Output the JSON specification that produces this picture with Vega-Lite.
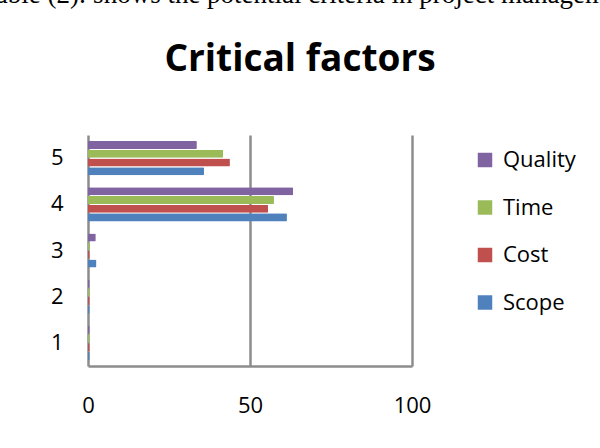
{
  "$schema": "https://vega.github.io/schema/vega-lite/v6.json",
  "autosize": "none",
  "width": 324,
  "height": 231,
  "padding": {"left": 88, "top": 135, "right": 188, "bottom": 82},
  "background": "white",
  "title": {
    "text": "\u2800Table (2): shows the potential criteria in project management",
    "subtitle": "Critical factors",
    "anchor": "middle",
    "frame": "group",
    "dx": 50,
    "offset": 56,
    "font": "Liberation Serif",
    "fontSize": 27,
    "fontWeight": "normal",
    "color": "black",
    "subtitleFont": "Open Sans",
    "subtitleFontSize": 37,
    "subtitleFontWeight": "bold",
    "subtitleColor": "black",
    "subtitlePadding": 33
  },
  "data": {
    "values": [
      {"category": "1", "series": "Scope", "value": 0.5},
      {"category": "1", "series": "Cost", "value": 0.5},
      {"category": "1", "series": "Time", "value": 0.5},
      {"category": "1", "series": "Quality", "value": 0.5},
      {"category": "2", "series": "Scope", "value": 0.5},
      {"category": "2", "series": "Cost", "value": 0.5},
      {"category": "2", "series": "Time", "value": 0.5},
      {"category": "2", "series": "Quality", "value": 0.5},
      {"category": "3", "series": "Scope", "value": 2.6},
      {"category": "3", "series": "Cost", "value": 0.5},
      {"category": "3", "series": "Time", "value": 0.5},
      {"category": "3", "series": "Quality", "value": 2.4},
      {"category": "4", "series": "Scope", "value": 61.4},
      {"category": "4", "series": "Cost", "value": 55.6},
      {"category": "4", "series": "Time", "value": 57.4},
      {"category": "4", "series": "Quality", "value": 63.3},
      {"category": "5", "series": "Scope", "value": 35.8},
      {"category": "5", "series": "Cost", "value": 43.8},
      {"category": "5", "series": "Time", "value": 41.7},
      {"category": "5", "series": "Quality", "value": 33.6}
    ]
  },
  "mark": {"type": "bar", "cornerRadiusEnd": 1},
  "encoding": {
    "y": {
      "field": "category",
      "type": "ordinal",
      "sort": "descending",
      "scale": {"paddingInner": 0.26, "paddingOuter": 0.13},
      "axis": {
        "title": null,
        "domain": false,
        "ticks": false,
        "labelFont": "Open Sans",
        "labelFontSize": 22,
        "labelColor": "black",
        "labelPadding": 25,
        "grid": false
      }
    },
    "yOffset": {
      "field": "series",
      "type": "nominal",
      "sort": ["Quality", "Time", "Cost", "Scope"],
      "scale": {"paddingInner": 0.08}
    },
    "x": {
      "field": "value",
      "type": "quantitative",
      "scale": {"domain": [0, 100], "nice": false},
      "axis": {
        "title": null,
        "values": [0, 50, 100],
        "ticks": false,
        "grid": true,
        "gridColor": "#8c8c8c",
        "gridWidth": 2.5,
        "gridOpacity": 1,
        "domainColor": "#8c8c8c",
        "domainWidth": 2.5,
        "labelFont": "Open Sans",
        "labelFontSize": 22,
        "labelColor": "black",
        "labelPadding": 29,
        "labelDx": -6,
        "labelFlush": false
      }
    },
    "color": {
      "field": "series",
      "type": "nominal",
      "scale": {
        "domain": ["Quality", "Time", "Cost", "Scope"],
        "range": ["#8064A2", "#9BBB59", "#C0504D", "#4F81BD"]
      },
      "legend": {
        "title": null,
        "orient": "none",
        "legendX": 386,
        "legendY": 14,
        "symbolType": "square",
        "symbolSize": 210,
        "symbolStrokeWidth": 0,
        "symbolOpacity": 1,
        "labelFont": "Open Sans",
        "labelFontSize": 22,
        "labelColor": "black",
        "labelOffset": 7,
        "rowPadding": 25.5
      }
    }
  },
  "config": {"view": {"stroke": null}}
}
